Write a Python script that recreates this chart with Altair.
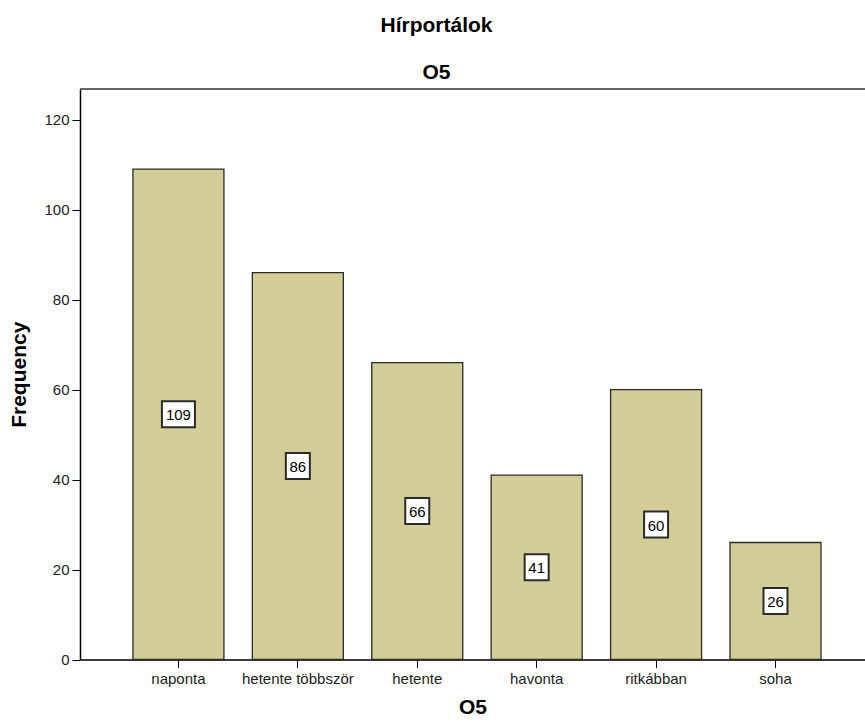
import altair as alt
import pandas as pd

# Frequency of news-portal use (question O5)
categories = ["naponta", "hetente többször", "hetente", "havonta", "ritkábban", "soha"]
counts = [109, 86, 66, 41, 60, 26]
y_ticks = [0, 20, 40, 60, 80, 100, 120]

FONT = "Liberation Sans"
BAR_FILL = "#D3CE97"
PANEL_BG = "#EFEFEF"

# Label boxes: rectangular symbol paths (unit square is -1..1), wider for 3 digits
BOX3 = "M-1,-0.788L1,-0.788L1,0.788L-1,0.788Z"
BOX2 = "M-0.923,-1L0.923,-1L0.923,1L-0.923,1Z"

df = pd.DataFrame({"O5": categories, "Frequency": counts})
df["mid"] = df["Frequency"] / 2
df["label"] = df["Frequency"].astype(str)
df["box"] = [BOX3 if len(s) >= 3 else BOX2 for s in df["label"]]
df["boxsize"] = [33 * 33 if len(s) >= 3 else 26 * 26 for s in df["label"]]

x_scale = alt.Scale(paddingInner=0.238, paddingOuter=0.406, align=0.546)
y_scale = alt.Scale(domain=[0, 126.8], nice=False, zero=True)

x_enc = alt.X(
    "O5:N",
    sort=categories,
    scale=x_scale,
    title="O5",
    axis=alt.Axis(
        labelAngle=0,
        labelFont=FONT,
        labelFontSize=15,
        labelColor="#222222",
        labelPadding=4,
        tickSize=8,
        tickColor="black",
        domainColor="black",
        domainWidth=1.5,
        titleFont=FONT,
        titleFontSize=21,
        titleFontWeight="bold",
        titleColor="black",
        titlePadding=10,
    ),
)

base = alt.Chart(df)

bars = base.mark_bar(
    fill=BAR_FILL, stroke="#2b2b2b", strokeWidth=1.3
).encode(
    x=x_enc,
    y=alt.Y(
        "Frequency:Q",
        scale=y_scale,
        title="Frequency",
        axis=alt.Axis(
            values=y_ticks,
            grid=False,
            labelFont=FONT,
            labelFontSize=15,
            labelColor="#222222",
            labelPadding=3,
            tickSize=8,
            tickColor="black",
            domainColor="black",
            domainWidth=1.5,
            titleFont=FONT,
            titleFontSize=21,
            titleFontWeight="bold",
            titleColor="black",
            titlePadding=14,
        ),
    ),
)

boxes = base.mark_point(
    filled=True, fill="white", stroke="#2b2b2b", strokeWidth=2, opacity=1
).encode(
    x=alt.X("O5:N", sort=categories, scale=x_scale),
    y=alt.Y("mid:Q", scale=y_scale),
    shape=alt.Shape("box:N", scale=None),
    size=alt.Size("boxsize:Q", scale=None),
)

labels = base.mark_text(
    font=FONT, fontSize=15, color="black", baseline="middle", dy=1
).encode(
    x=alt.X("O5:N", sort=categories, scale=x_scale),
    y=alt.Y("mid:Q", scale=y_scale),
    text="label:N",
)

# Dark frame line along the top of the panel
top_line = alt.Chart(df).mark_rule(color="#666666", strokeWidth=2).encode(
    y=alt.value(0)
)

chart = (
    alt.layer(bars, boxes, labels, top_line)
    .properties(
        width=785,
        height=570.5,
        title=alt.TitleParams(
            text="Hírportálok",
            subtitle="O5",
            font=FONT,
            fontSize=21,
            fontWeight="bold",
            color="black",
            subtitleFont=FONT,
            subtitleFontSize=21,
            subtitleFontWeight="bold",
            subtitleColor="black",
            subtitlePadding=26,
            anchor="middle",
            dx=-36,
            offset=5,
        ),
        autosize=alt.AutoSizeParams(type="none"),
        padding={"left": 80, "top": 89, "right": 0, "bottom": 67.5},
    )
    .configure_view(fill=PANEL_BG, stroke=None)
    .configure(background="white")
)

chart.save("out.html", embed_options={"renderer": "svg", "actions": False})
